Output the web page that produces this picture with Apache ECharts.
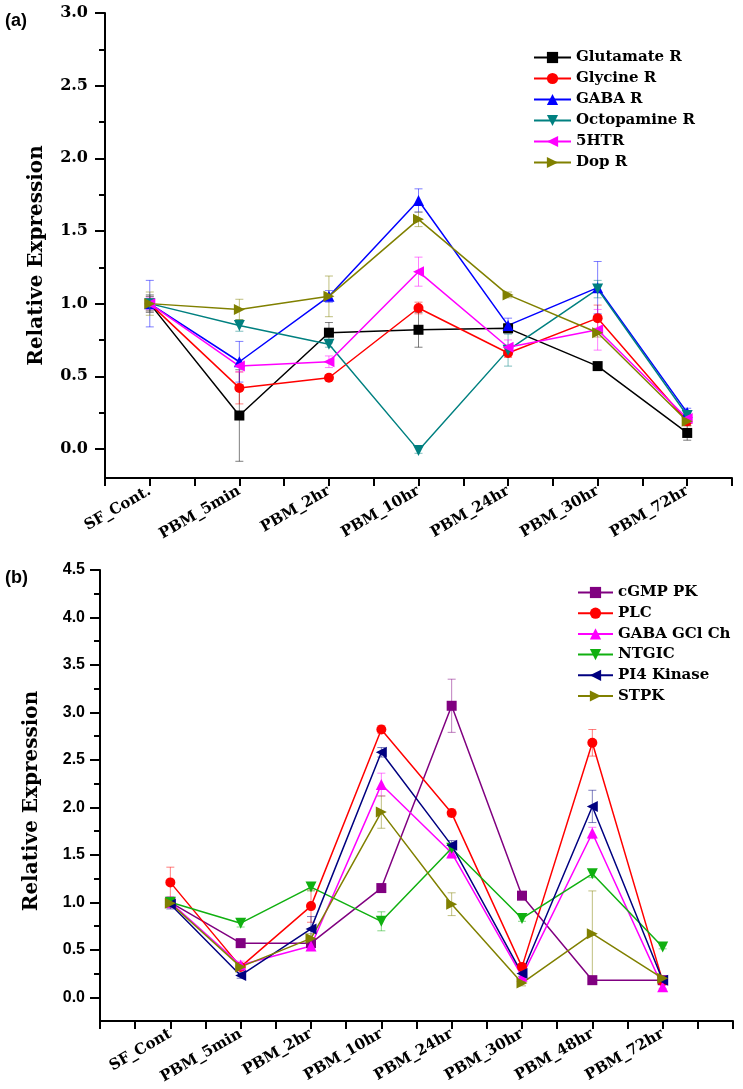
<!DOCTYPE html>
<html>
<head>
<meta charset="utf-8">
<script src="https://cdn.jsdelivr.net/npm/echarts/dist/echarts.min.js"></script>
<style>
    html, body {margin: 0; padding: 0; background: #fff;}
    #container {width: 743px; height: 1089px;}
</style>
</head>
<body>
<div id="container"></div>
<script type="text/javascript">
    // panel (a)
    var catA = ['SF_Cont.', 'PBM_5min', 'PBM_2hr', 'PBM_10hr', 'PBM_24hr', 'PBM_30hr', 'PBM_72hr'];
    var glutamate = [1.00, 0.23, 0.80, 0.82, 0.83, 0.57, 0.11];
    var glycine = [1.00, 0.42, 0.49, 0.97, 0.66, 0.90, 0.19];
    var gabaR = [1.00, 0.60, 1.05, 1.71, 0.85, 1.11, 0.25];
    var octopamine = [1.00, 0.85, 0.72, -0.01, 0.68, 1.10, 0.23];
    var htr5 = [1.00, 0.57, 0.60, 1.22, 0.70, 0.82, 0.21];
    var dopR = [1.00, 0.96, 1.05, 1.58, 1.06, 0.80, 0.19];
    var glutamateErr = [0.06, 0.315, 0.07, 0.12, 0.03, 0.02, 0.05];
    var glycineErr = [0.05, 0.11, 0.02, 0.04, 0.03, 0.09, 0.03];
    var gabaRErr = [0.16, 0.14, 0.04, 0.08, 0.05, 0.18, 0.03];
    var octopamineErr = [0.05, 0.04, 0.02, 0.02, 0.11, 0.06, 0.03];
    var htr5Err = [0.04, 0.04, 0.04, 0.10, 0.05, 0.14, 0.03];
    var dopRErr = [0.08, 0.07, 0.14, 0.05, 0.02, 0.03, 0.03];
    var ticksA = [0, 0.5, 1.0, 1.5, 2.0, 2.5, 3.0];
    var minorA = [0.25, 0.75, 1.25, 1.75, 2.25, 2.75];

    // panel (b)
    var catB = ['SF_Cont', 'PBM_5min', 'PBM_2hr', 'PBM_10hr', 'PBM_24hr', 'PBM_30hr', 'PBM_48hr', 'PBM_72hr'];
    var cgmp = [1.00, 0.57, 0.57, 1.15, 3.07, 1.07, 0.18, 0.18];
    var plc = [1.21, 0.32, 0.96, 2.82, 1.94, 0.32, 2.68, 0.17];
    var gabaGCl = [1.00, 0.34, 0.54, 2.24, 1.52, 0.22, 1.73, 0.11];
    var ntgic = [1.00, 0.78, 1.16, 0.80, 1.57, 0.83, 1.30, 0.53];
    var pi4 = [0.98, 0.23, 0.72, 2.58, 1.60, 0.25, 2.01, 0.18];
    var stpk = [0.99, 0.32, 0.62, 1.95, 0.98, 0.15, 0.67, 0.20];
    var cgmpErr = [0.05, 0.03, 0.03, 0.03, 0.28, 0.03, 0.02, 0.02];
    var plcErr = [0.16, 0.03, 0.17, 0.04, 0.04, 0.03, 0.14, 0.02];
    var gabaGClErr = [0.06, 0.04, 0.03, 0.12, 0.05, 0.03, 0.06, 0.02];
    var ntgicErr = [0.03, 0.04, 0.04, 0.10, 0.04, 0.03, 0.04, 0.02];
    var pi4Err = [0.05, 0.03, 0.13, 0.05, 0.05, 0.03, 0.17, 0.02];
    var stpkErr = [0.04, 0.03, 0.05, 0.17, 0.12, 0.03, 0.45, 0.02];
    var ticksB = [0, 0.5, 1.0, 1.5, 2.0, 2.5, 3.0, 3.5, 4.0, 4.5];
    var minorB = [0.25, 0.75, 1.25, 1.75, 2.25, 2.75, 3.25, 3.75, 4.25];

    var serif = '"DejaVu Serif", serif';
    var sans = '"Liberation Sans", Arial, sans-serif';
    var symDown = 'path://M0,0L10,0L5,9Z';
    var symLeft = 'path://M0,5L9,0L9,10Z';
    var symRight = 'path://M0,0L9,5L0,10Z';

    var dom = document.getElementById("container");
    var myChart = echarts.init(dom);

    function lineSeries(name, vals, color, symbol, size, g) {
        return {
            name: name,
            type: 'line',
            xAxisIndex: g,
            yAxisIndex: g * 2,
            data: vals.map(function (v, i) { return [i + 1, v]; }),
            symbol: symbol,
            symbolSize: size,
            showAllSymbol: true,
            itemStyle: {color: color},
            lineStyle: {color: color, width: 1.5},
            z: 3
        };
    }

    function errSeries(name, vals, errs, color, g) {
        return {
            name: name + ' err',
            type: 'custom',
            xAxisIndex: g,
            yAxisIndex: g * 2,
            encode: {x: 0, y: [1, 2]},
            data: vals.map(function (v, i) { return [i + 1, v - errs[i], v + errs[i]]; }),
            renderItem: function (params, api) {
                var lo = api.coord([api.value(0), api.value(1)]);
                var hi = api.coord([api.value(0), api.value(2)]);
                var st = {stroke: color, lineWidth: 1, opacity: 0.5};
                return {
                    type: 'group',
                    children: [
                        {type: 'line', shape: {x1: lo[0], y1: lo[1], x2: hi[0], y2: hi[1]}, style: st},
                        {type: 'line', shape: {x1: lo[0] - 4, y1: lo[1], x2: lo[0] + 4, y2: lo[1]}, style: st},
                        {type: 'line', shape: {x1: hi[0] - 4, y1: hi[1], x2: hi[0] + 4, y2: hi[1]}, style: st}
                    ]
                };
            },
            z: 2
        };
    }

    function xAxisOpt(g, min, max, cats) {
        return {
            type: 'value',
            gridIndex: g,
            position: 'bottom',
            min: min,
            max: max,
            interval: 0.5,
            splitLine: {show: false},
            axisLine: {show: true, onZero: false, lineStyle: {color: '#000', width: 2}},
            axisTick: {show: true, length: 8, lineStyle: {color: '#000', width: 2}},
            axisLabel: {
                rotate: 30,
                margin: 12,
                color: '#000',
                fontFamily: serif,
                fontWeight: 'bold',
                fontSize: 15,
                formatter: function (v) {
                    return (Number.isInteger(v) && cats[v - 1]) ? cats[v - 1] : '';
                }
            }
        };
    }

    function yAxisOpt(g, min, max, ticks, font, margin, pad) {
        return {
            type: 'value',
            gridIndex: g,
            position: 'left',
            min: min,
            max: max,
            name: 'Relative Expression',
            nameLocation: 'middle',
            nameGap: 58,
            nameTextStyle: {color: '#000', fontFamily: serif, fontWeight: 'bold', fontSize: 20, padding: [0, pad, 0, 0]},
            splitLine: {show: false},
            axisLine: {show: true, onZero: false, lineStyle: {color: '#000', width: 2}},
            axisTick: {show: true, length: 10, customValues: ticks, lineStyle: {color: '#000', width: 2}},
            axisLabel: {
                customValues: ticks,
                margin: margin,
                color: '#000',
                fontFamily: font,
                fontWeight: 'bold',
                fontSize: 16,
                formatter: function (v) { return v.toFixed(1); }
            }
        };
    }

    function minorAxisOpt(g, min, max, ticks) {
        return {
            type: 'value',
            gridIndex: g,
            position: 'left',
            min: min,
            max: max,
            splitLine: {show: false},
            axisLine: {show: false},
            axisTick: {show: true, length: 6, customValues: ticks, lineStyle: {color: '#000', width: 2}},
            axisLabel: {show: false}
        };
    }

    var legendText = {color: '#000', fontFamily: serif, fontWeight: 'bold', fontSize: 15, lineHeight: 14};

    var option = {
        animation: false,
        backgroundColor: '#fff',
        title: [
            {text: '(a)', left: 5, top: 12, padding: 0, textStyle: {fontFamily: sans, fontWeight: 'bold', fontSize: 18, color: '#000'}},
            {text: '(b)', left: 5, top: 569, padding: 0, textStyle: {fontFamily: sans, fontWeight: 'bold', fontSize: 18, color: '#000'}}
        ],
        grid: [
            {left: 105, top: 13, width: 627, height: 465},
            {left: 100, top: 570, width: 633, height: 451}
        ],
        legend: [
            {
                orient: 'vertical', left: 533, top: 50, padding: 0, itemWidth: 37, itemHeight: 14, itemGap: 6,
                textStyle: legendText,
                data: ['Glutamate R', 'Glycine R', 'GABA R', 'Octopamine R', '5HTR', 'Dop R']
            },
            {
                orient: 'vertical', left: 577, top: 585, padding: 0, itemWidth: 35, itemHeight: 14, itemGap: 5.7,
                textStyle: legendText,
                data: ['cGMP PK', 'PLC', 'GABA GCl Ch', 'NTGIC', 'PI4 Kinase', 'STPK']
            }
        ],
        xAxis: [
            xAxisOpt(0, 0.5, 7.5, catA),
            xAxisOpt(1, 0, 9, catB)
        ],
        yAxis: [
            yAxisOpt(0, -0.2, 3.0, ticksA, serif, 17, 20),
            minorAxisOpt(0, -0.2, 3.0, minorA),
            yAxisOpt(1, -0.25, 4.5, ticksB, sans, 15, 11),
            minorAxisOpt(1, -0.25, 4.5, minorB)
        ],
        series: [
            errSeries('Glutamate R', glutamate, glutamateErr, '#000000', 0),
            errSeries('Glycine R', glycine, glycineErr, '#ff0000', 0),
            errSeries('GABA R', gabaR, gabaRErr, '#0000ff', 0),
            errSeries('Octopamine R', octopamine, octopamineErr, '#008080', 0),
            errSeries('5HTR', htr5, htr5Err, '#ff00ff', 0),
            errSeries('Dop R', dopR, dopRErr, '#808000', 0),
            lineSeries('Glutamate R', glutamate, '#000000', 'rect', 10, 0),
            lineSeries('Glycine R', glycine, '#ff0000', 'circle', 10, 0),
            lineSeries('GABA R', gabaR, '#0000ff', 'triangle', 11, 0),
            lineSeries('Octopamine R', octopamine, '#008080', symDown, 11, 0),
            lineSeries('5HTR', htr5, '#ff00ff', symLeft, 11, 0),
            lineSeries('Dop R', dopR, '#808000', symRight, 11, 0),

            errSeries('cGMP PK', cgmp, cgmpErr, '#800080', 1),
            errSeries('PLC', plc, plcErr, '#ff0000', 1),
            errSeries('GABA GCl Ch', gabaGCl, gabaGClErr, '#ff00ff', 1),
            errSeries('NTGIC', ntgic, ntgicErr, '#10b010', 1),
            errSeries('PI4 Kinase', pi4, pi4Err, '#000080', 1),
            errSeries('STPK', stpk, stpkErr, '#808000', 1),
            lineSeries('cGMP PK', cgmp, '#800080', 'rect', 10, 1),
            lineSeries('PLC', plc, '#ff0000', 'circle', 10, 1),
            lineSeries('GABA GCl Ch', gabaGCl, '#ff00ff', 'triangle', 11, 1),
            lineSeries('NTGIC', ntgic, '#10b010', symDown, 11, 1),
            lineSeries('PI4 Kinase', pi4, '#000080', symLeft, 11, 1),
            lineSeries('STPK', stpk, '#808000', symRight, 11, 1)
        ]
    };
    if (option && typeof option === "object") {
        myChart.setOption(option, true);
    }
</script>
</body>
</html>
